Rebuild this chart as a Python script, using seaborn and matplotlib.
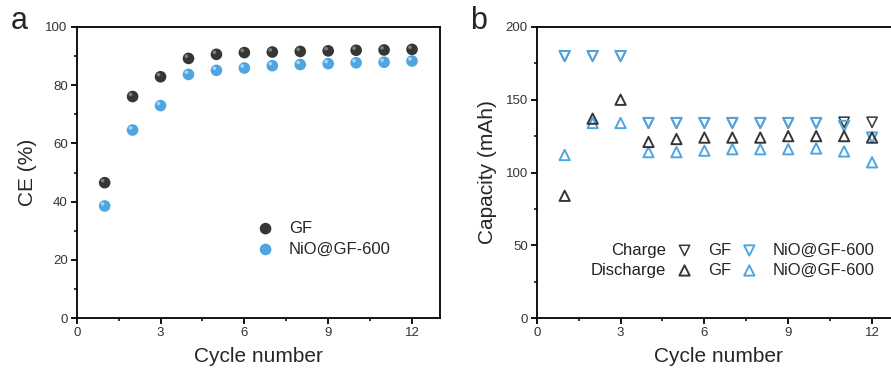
import numpy as np
import pandas as pd
import matplotlib
matplotlib.use("Agg")
import matplotlib.pyplot as plt
import matplotlib.transforms as mtransforms
from matplotlib.ticker import MultipleLocator
import seaborn as sns

# ---------- data ----------
cycles = list(range(1, 13))

ce_gf = [46.5, 76.1, 82.9, 89.2, 90.6, 91.2, 91.4, 91.6, 91.8, 92.0, 92.1, 92.3]
ce_nio = [38.5, 64.6, 73.0, 83.7, 85.1, 85.9, 86.7, 87.1, 87.4, 87.7, 87.9, 88.3]

charge_gf = [180, 180, 180, 134, 134, 134, 134, 134, 134, 134, 134.5, 134.5]
discharge_gf = [84, 137, 150, 121, 123, 124, 124, 124, 125, 125, 125, 124]
charge_nio = [180, 180, 180, 134, 134, 134, 134, 134, 134, 134, 132, 124]
discharge_nio = [112, 134, 134, 114, 114, 115, 116, 116, 116, 116.5, 114.5, 107]

samples = ["GF", "NiO@GF-600"]
ce_ticks = [0, 20, 40, 60, 80, 100]
cap_ticks = [0, 50, 100, 150, 200]
cycle_ticks = [0, 3, 6, 9, 12]

DARK = "#363636"
BLUE = "#4ea5e2"
DARK_HI = "#8a8a8a"
BLUE_HI = "#b9def6"

sns.set_theme(style="ticks")
plt.rcParams["font.family"] = ["Liberation Sans", "DejaVu Sans"]
plt.rcParams["axes.linewidth"] = 1.3
plt.rcParams["axes.edgecolor"] = "black"

fig = plt.figure(figsize=(8.91, 3.78), dpi=100)
ax_a = fig.add_axes([0.0861, 0.1587, 0.4077, 0.7699])
ax_b = fig.add_axes([0.6024, 0.1587, 0.4077, 0.7699])


def style_axis(ax, ymax, ymajor, yticks):
    ax.set_xlim(0, 13)
    ax.set_ylim(0, ymax)
    ax.set_xticks(cycle_ticks)
    ax.set_yticks(yticks)
    ax.xaxis.set_minor_locator(MultipleLocator(1.5))
    ax.yaxis.set_minor_locator(MultipleLocator(ymajor / 2))
    ax.tick_params(which="major", direction="out", length=4.5, width=1.3,
                   labelsize=9.5, colors="black", labelcolor="#333333", pad=2)
    ax.tick_params(which="minor", direction="out", length=2.5, width=1.1,
                   colors="black")
    ax.tick_params(top=False, right=False, which="both")
    for s in ax.spines.values():
        s.set_visible(True)
        s.set_linewidth(1.3)
    ax.set_xlabel("Cycle number", fontsize=15, labelpad=6)


# ---------- panel a ----------
ce_df = pd.DataFrame({
    "cycle": cycles * 2,
    "ce": ce_gf + ce_nio,
    "sample": [samples[0]] * 12 + [samples[1]] * 12,
})
sns.scatterplot(data=ce_df, x="cycle", y="ce", hue="sample",
                palette=[DARK, BLUE], s=70, edgecolor="none", ax=ax_a,
                legend=False, zorder=3)
# small highlight to give the balls a shaded look
sns.scatterplot(data=ce_df, x="cycle", y="ce", hue="sample",
                palette=[DARK_HI, BLUE_HI], s=7, edgecolor="none", ax=ax_a,
                legend=False, zorder=4)
off = mtransforms.ScaledTranslation(-1.5 / 72, 1.5 / 72, fig.dpi_scale_trans)
ax_a.collections[-1].set_offset_transform(ax_a.transData + off)
ax_a.collections[-1].set_alpha(0.85)

style_axis(ax_a, 100, 20, ce_ticks)
ax_a.set_ylabel("CE (%)", fontsize=15, labelpad=6)

h_gf = ax_a.scatter([], [], s=70, color=DARK, edgecolor="none")
h_nio = ax_a.scatter([], [], s=70, color=BLUE, edgecolor="none")
ax_a.legend([h_gf, h_nio], samples, loc="upper left",
            bbox_to_anchor=(0.474, 0.362), frameon=False, fontsize=12,
            handlelength=1.0, handletextpad=0.9, labelspacing=0.35,
            borderpad=0, scatterpoints=1)

# ---------- panel b ----------
series = [
    (charge_gf, "v", DARK, 1.1),
    (charge_nio, "v", BLUE, 1.4),
    (discharge_nio, "^", BLUE, 1.4),
    (discharge_gf, "^", DARK, 1.4),
]
handles = {}
for vals, mk, col, lw in series:
    sns.scatterplot(x=cycles, y=vals, marker=mk, s=55, ax=ax_b,
                    legend=False, zorder=3)
    coll = ax_b.collections[-1]
    coll.set_facecolor("none")
    coll.set_edgecolor(col)
    coll.set_linewidth(lw)
    handles[(mk, col)] = coll

style_axis(ax_b, 200, 50, cap_ticks)
ax_b.set_ylabel("Capacity (mAh)", fontsize=15, labelpad=6)

leg_handles = [handles[("v", DARK)], handles[("^", DARK)],
               handles[("v", BLUE)], handles[("^", BLUE)]]
leg_labels = ["GF", "GF", "NiO@GF-600", "NiO@GF-600"]
ax_b.legend(leg_handles, leg_labels, ncol=2, loc="upper left",
            bbox_to_anchor=(0.361, 0.287), frameon=False, fontsize=12,
            handlelength=1.0, handletextpad=0.9, labelspacing=0.3,
            columnspacing=0.6, borderpad=0, scatterpoints=1)
ax_b.text(0.356, 0.232, "Charge", transform=ax_b.transAxes, ha="right",
          va="center", fontsize=12, color="#222222")
ax_b.text(0.356, 0.163, "Discharge", transform=ax_b.transAxes, ha="right",
          va="center", fontsize=12, color="#222222")

# panel letters
fig.text(0.012, 0.945, "a", fontsize=22, va="center", ha="left")
fig.text(0.528, 0.945, "b", fontsize=22, va="center", ha="left")

fig.savefig("out.png", dpi=100)
